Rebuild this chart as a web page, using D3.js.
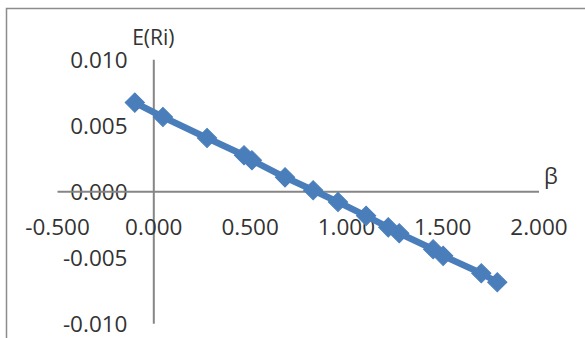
<!DOCTYPE html>
<html>
<head>
<meta charset="utf-8">
<script src="https://cdn.jsdelivr.net/npm/d3@7"></script>
<style>
  html, body { margin: 0; padding: 0; background: #fff; }
  svg { display: block; }
</style>
</head>
<body>
<svg id="chart" width="585" height="338"></svg>
<script>
// Data
const betaValues = [-0.096, 0.050, 0.279, 0.471, 0.512, 0.684, 0.830, 0.959, 1.105, 1.220, 1.277, 1.453, 1.505, 1.703, 1.786];
const expectedReturns = [0.00672, 0.00563, 0.00404, 0.00273, 0.00235, 0.00106, 0.00008, -0.00081, -0.00186, -0.00273, -0.00318, -0.00439, -0.00489, -0.00621, -0.00689];
const xTicks = [-0.5, 0.0, 0.5, 1.0, 1.5, 2.0];
const yTicks = [-0.010, -0.005, 0.000, 0.005, 0.010];
const xAxisTitle = "β";
const yAxisTitle = "E(Ri)";

const points = betaValues.map((b, i) => ({ b, r: expectedReturns[i] }));

const svg = d3.select("#chart");
const W = 585, H = 338;
const font = "'Open Sans', 'Liberation Sans', Arial, sans-serif";
const textColor = "#333333";
const axisColor = "#868686";
const seriesColor = "#4a7ebb";
const fmt = d => d3.format(".3f")(d).replace("\u2212", "-");

// outer chart frame (right/bottom edges fall outside the picture)
svg.append("rect")
  .attr("x", 6.5).attr("y", 8.5)
  .attr("width", W + 20).attr("height", H + 20)
  .attr("fill", "none").attr("stroke", "#8c8c8c").attr("stroke-width", 1.5);

const x = d3.scaleLinear().domain([-0.5, 2.0]).range([57, 538.5]);
const y = d3.scaleLinear().domain([-0.010, 0.010]).range([323.3, 59.3]);

// Y axis line at x = 0
const yAxis = d3.axisLeft(y).tickValues(yTicks).tickSize(0).tickPadding(0).tickFormat(fmt);
const gy = svg.append("g").attr("transform", `translate(${x(0)},0)`).call(yAxis);
gy.select(".domain").attr("stroke", axisColor).attr("stroke-width", 2);
gy.selectAll(".tick text")
  .attr("x", -(x(0) - 127.5))
  .attr("dy", "0.36em")
  .attr("fill", textColor)
  .style("font-family", font).style("font-size", "22.5px");

// X axis line at y = 0
const xAxis = d3.axisBottom(x).tickValues(xTicks).tickSize(0).tickPadding(0).tickFormat(fmt);
const gx = svg.append("g").attr("transform", `translate(0,${y(0)})`).call(xAxis);
gx.select(".domain").attr("stroke", axisColor).attr("stroke-width", 2);
gx.selectAll(".tick text")
  .attr("y", 36)
  .attr("dy", "0.36em")
  .attr("fill", textColor)
  .style("font-family", font).style("font-size", "22.5px");

// axis titles
svg.append("text")
  .attr("x", x(0)).attr("y", 45)
  .attr("text-anchor", "middle")
  .attr("fill", textColor)
  .style("font-family", font).style("font-size", "21px")
  .text(yAxisTitle);

svg.append("text")
  .attr("x", 544).attr("y", 184)
  .attr("fill", textColor)
  .style("font-family", font).style("font-size", "22px")
  .text(xAxisTitle);

// series line
const line = d3.line().x(d => x(d.b)).y(d => y(d.r));
svg.append("path")
  .datum(points)
  .attr("d", line)
  .attr("fill", "none")
  .attr("stroke", seriesColor)
  .attr("stroke-width", 6.5)
  .attr("stroke-linejoin", "round");

// diamond markers
const diamond = d3.symbol().type(d3.symbolSquare).size(185);
svg.append("g").selectAll("path")
  .data(points)
  .join("path")
  .attr("d", diamond)
  .attr("transform", d => `translate(${x(d.b)},${y(d.r)}) rotate(45)`)
  .attr("fill", seriesColor)
  .attr("stroke", seriesColor)
  .attr("stroke-width", 1);
</script>
</body>
</html>
